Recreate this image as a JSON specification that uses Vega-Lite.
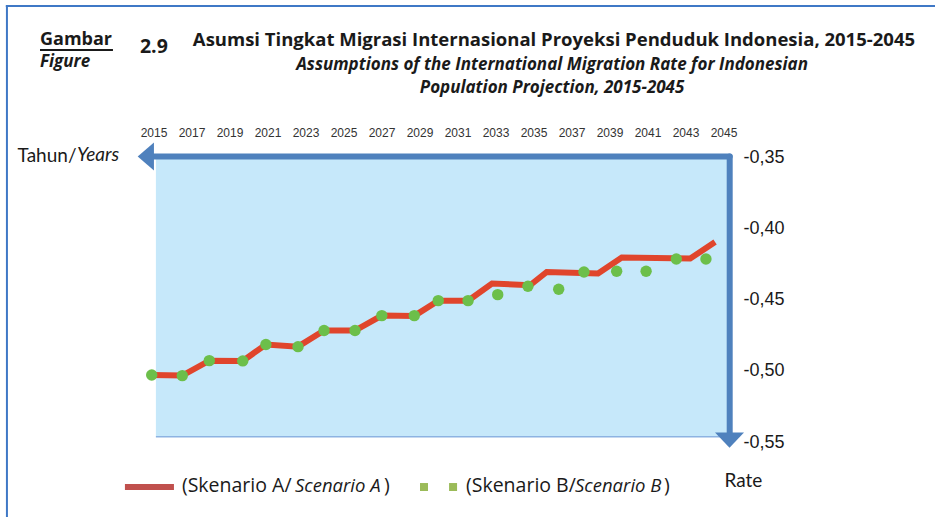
{
  "$schema": "https://vega.github.io/schema/vega-lite/v6.json",
  "width": 570,
  "height": 285,
  "autosize": {"type": "none"},
  "padding": {"left": 154, "top": 157, "right": 211, "bottom": 75},
  "background": "white",
  "config": {"view": {"stroke": null}},
  "datasets": {
    "migration": [
      {"scenario": "A", "year": 2014.88, "rate": -0.5030},
      {"scenario": "A", "year": 2016.49, "rate": -0.5034},
      {"scenario": "A", "year": 2017.91, "rate": -0.4929},
      {"scenario": "A", "year": 2019.67, "rate": -0.4931},
      {"scenario": "A", "year": 2020.89, "rate": -0.4816},
      {"scenario": "A", "year": 2022.58, "rate": -0.4831},
      {"scenario": "A", "year": 2023.95, "rate": -0.4718},
      {"scenario": "A", "year": 2025.58, "rate": -0.4718},
      {"scenario": "A", "year": 2026.99, "rate": -0.4613},
      {"scenario": "A", "year": 2028.70, "rate": -0.4615},
      {"scenario": "A", "year": 2029.96, "rate": -0.4508},
      {"scenario": "A", "year": 2031.53, "rate": -0.4508},
      {"scenario": "A", "year": 2032.79, "rate": -0.4388},
      {"scenario": "A", "year": 2034.79, "rate": -0.4400},
      {"scenario": "A", "year": 2035.67, "rate": -0.4307},
      {"scenario": "A", "year": 2038.37, "rate": -0.4318},
      {"scenario": "A", "year": 2039.62, "rate": -0.4206},
      {"scenario": "A", "year": 2043.22, "rate": -0.4213},
      {"scenario": "A", "year": 2044.53, "rate": -0.4096},
      {"scenario": "B", "year": 2014.88, "rate": -0.5030},
      {"scenario": "B", "year": 2016.49, "rate": -0.5034},
      {"scenario": "B", "year": 2017.91, "rate": -0.4929},
      {"scenario": "B", "year": 2019.67, "rate": -0.4931},
      {"scenario": "B", "year": 2020.89, "rate": -0.4816},
      {"scenario": "B", "year": 2022.58, "rate": -0.4831},
      {"scenario": "B", "year": 2023.95, "rate": -0.4718},
      {"scenario": "B", "year": 2025.58, "rate": -0.4718},
      {"scenario": "B", "year": 2026.99, "rate": -0.4613},
      {"scenario": "B", "year": 2028.70, "rate": -0.4613},
      {"scenario": "B", "year": 2029.96, "rate": -0.4508},
      {"scenario": "B", "year": 2031.53, "rate": -0.4508},
      {"scenario": "B", "year": 2033.09, "rate": -0.4466},
      {"scenario": "B", "year": 2034.68, "rate": -0.4407},
      {"scenario": "B", "year": 2036.30, "rate": -0.4428},
      {"scenario": "B", "year": 2037.63, "rate": -0.4307},
      {"scenario": "B", "year": 2039.35, "rate": -0.4302},
      {"scenario": "B", "year": 2040.90, "rate": -0.4302},
      {"scenario": "B", "year": 2042.49, "rate": -0.4216},
      {"scenario": "B", "year": 2044.05, "rate": -0.4216}
    ],
    "yearLabels": [
      {"tick": 2015}, {"tick": 2017}, {"tick": 2019}, {"tick": 2021},
      {"tick": 2023}, {"tick": 2025}, {"tick": 2027}, {"tick": 2029},
      {"tick": 2031}, {"tick": 2033}, {"tick": 2035}, {"tick": 2037},
      {"tick": 2039}, {"tick": 2041}, {"tick": 2043}, {"tick": 2045}
    ]
  },
  "layer": [
    {
      "data": {"values": [{}]},
      "mark": {"type": "rect", "fill": "#c6e8fa"},
      "encoding": {
        "x": {
          "datum": 2015.1, "type": "quantitative",
          "scale": {"domain": [2015, 2045], "nice": false, "zero": false},
          "axis": {
            "orient": "top",
            "labels": false,
            "ticks": false,
            "domain": false,
            "grid": false,
            "title": "Tahun/",
            "titleFont": "Lato",
            "titleFontSize": 19,
            "titleFontWeight": "normal",
            "titleColor": "#1a1a1a",
            "titleAlign": "right",
            "titleBaseline": "middle",
            "titleAngle": 0,
            "titleX": -78,
            "titleY": -2
          }
        },
        "x2": {"datum": 2045.3},
        "y": {
          "datum": -0.35, "type": "quantitative",
          "scale": {"domain": [-0.55, -0.35], "nice": false, "zero": false},
          "axis": {
            "orient": "right",
            "values": [-0.55, -0.5, -0.45, -0.4, -0.35],
            "labelExpr": "'-' + replace(format(abs(datum.value), '.2f'), '.', ',')",
            "labelFont": "Liberation Sans",
            "labelFontSize": 18,
            "labelColor": "#1a1a1a",
            "labelPadding": 19,
            "labelFlush": false,
            "labelOverlap": false,
            "ticks": false,
            "domain": false,
            "grid": false,
            "title": "Rate",
            "titleAngle": 0,
            "titleX": 0,
            "titleY": 323,
            "titleAlign": "left",
            "titleBaseline": "middle",
            "titleFont": "Lato",
            "titleFontSize": 19,
            "titleFontWeight": "normal",
            "titleColor": "#1a1a1a"
          }
        },
        "y2": {"datum": -0.5463}
      }
    },
    {
      "data": {"values": [{}]},
      "mark": {"type": "rule", "color": "#8db3e2", "strokeWidth": 1.5},
      "encoding": {
        "x": {"datum": 2015.1, "type": "quantitative"},
        "x2": {"datum": 2045.2},
        "y": {"datum": -0.5463, "type": "quantitative"}
      }
    },
    {
      "data": {"values": [{}]},
      "mark": {"type": "rule", "color": "#3f78c6", "strokeWidth": 2},
      "encoding": {
        "x": {"datum": 2007.26, "type": "quantitative"},
        "y": {"datum": -0.244, "type": "quantitative"},
        "y2": {"datum": -0.61}
      }
    },
    {
      "data": {"values": [{}]},
      "mark": {"type": "rule", "color": "#3f78c6", "strokeWidth": 2},
      "encoding": {
        "x": {"datum": 2007.2, "type": "quantitative"},
        "x2": {"datum": 2057},
        "y": {"datum": -0.244, "type": "quantitative"}
      }
    },
    {
      "data": {"name": "yearLabels"},
      "mark": {"type": "text", "font": "Liberation Sans", "fontSize": 12, "color": "#333333", "align": "center", "baseline": "middle"},
      "encoding": {
        "x": {"field": "tick", "type": "quantitative"},
        "y": {"datum": -0.3334, "type": "quantitative"},
        "text": {"field": "tick", "type": "nominal"}
      }
    },
    {
      "data": {"name": "migration"},
      "transform": [{"filter": "datum.scenario === 'A'"}],
      "mark": {"type": "line", "strokeWidth": 6, "strokeJoin": "miter"},
      "encoding": {
        "x": {"field": "year", "type": "quantitative"},
        "y": {"field": "rate", "type": "quantitative"},
        "color": {
          "field": "scenario", "type": "nominal",
          "scale": {"domain": ["A", "B"], "range": ["#e0452c", "#6cbf4a"]},
          "legend": null
        }
      }
    },
    {
      "data": {"name": "migration"},
      "transform": [{"filter": "datum.scenario === 'B'"}],
      "mark": {"type": "point", "filled": true, "size": 130, "opacity": 1},
      "encoding": {
        "x": {"field": "year", "type": "quantitative"},
        "y": {"field": "rate", "type": "quantitative"},
        "color": {"field": "scenario", "type": "nominal", "legend": null}
      }
    },
    {
      "data": {"values": [{}]},
      "mark": {"type": "rule", "color": "#4f81bd", "strokeWidth": 6, "strokeCap": "round"},
      "encoding": {
        "x": {"datum": 2014.97, "type": "quantitative"},
        "x2": {"datum": 2045.3},
        "y": {"datum": -0.3497, "type": "quantitative"}
      }
    },
    {
      "data": {"values": [{}]},
      "mark": {"type": "rule", "color": "#4f81bd", "strokeWidth": 6, "strokeCap": "round"},
      "encoding": {
        "x": {"datum": 2045.3, "type": "quantitative"},
        "y": {"datum": -0.3497, "type": "quantitative"},
        "y2": {"datum": -0.5435}
      }
    },
    {
      "data": {"values": [{}]},
      "mark": {"type": "point", "filled": true, "opacity": 1, "color": "#4f81bd", "strokeWidth": 0, "shape": "M-0.58,0L0.58,-1L0.58,1Z", "size": 784},
      "encoding": {
        "x": {"datum": 2014.57, "type": "quantitative"},
        "y": {"datum": -0.3497, "type": "quantitative"}
      }
    },
    {
      "data": {"values": [{}]},
      "mark": {"type": "point", "filled": true, "opacity": 1, "color": "#4f81bd", "strokeWidth": 0, "shape": "M-1,-0.52L1,-0.52L0,0.52Z", "size": 841},
      "encoding": {
        "x": {"datum": 2045.29, "type": "quantitative"},
        "y": {"datum": -0.5487, "type": "quantitative"}
      }
    },
    {
      "data": {"values": [{}]},
      "mark": {"type": "text", "text": "Years", "font": "Lato", "fontSize": 19, "fontStyle": "italic", "color": "#1a1a1a", "align": "left", "baseline": "middle"},
      "encoding": {
        "x": {"datum": 2010.95, "type": "quantitative"},
        "y": {"datum": -0.3486, "type": "quantitative"}
      }
    },
    {
      "data": {"values": [{}]},
      "mark": {"type": "text", "text": "Asumsi Tingkat Migrasi Internasional Proyeksi Penduduk Indonesia, 2015-2045", "font": "Open Sans", "fontSize": 18.5, "fontWeight": "bold", "color": "#1a1a1a", "align": "center", "baseline": "middle"},
      "encoding": {
        "x": {"datum": 2036.05, "type": "quantitative"},
        "y": {"datum": -0.2679, "type": "quantitative"}
      }
    },
    {
      "data": {"values": [{}]},
      "mark": {"type": "text", "text": "Assumptions of the International Migration Rate for Indonesian", "font": "Open Sans", "fontSize": 17, "fontWeight": "bold", "fontStyle": "italic", "color": "#1a1a1a", "align": "center", "baseline": "middle"},
      "encoding": {
        "x": {"datum": 2035.95, "type": "quantitative"},
        "y": {"datum": -0.2854, "type": "quantitative"}
      }
    },
    {
      "data": {"values": [{}]},
      "mark": {"type": "text", "text": "Population Projection, 2015-2045", "font": "Open Sans", "fontSize": 17, "fontWeight": "bold", "fontStyle": "italic", "color": "#1a1a1a", "align": "center", "baseline": "middle"},
      "encoding": {
        "x": {"datum": 2035.95, "type": "quantitative"},
        "y": {"datum": -0.3016, "type": "quantitative"}
      }
    },
    {
      "data": {"values": [{}]},
      "mark": {"type": "text", "text": "Gambar", "font": "Open Sans", "fontSize": 18, "fontWeight": "bold", "color": "#1a1a1a", "align": "left", "baseline": "middle"},
      "encoding": {
        "x": {"datum": 2009.0, "type": "quantitative"},
        "y": {"datum": -0.2679, "type": "quantitative"}
      }
    },
    {
      "data": {"values": [{}]},
      "mark": {"type": "rule", "color": "#1a1a1a", "strokeWidth": 2},
      "encoding": {
        "x": {"datum": 2009.0, "type": "quantitative"},
        "x2": {"datum": 2012.84},
        "y": {"datum": -0.2749, "type": "quantitative"}
      }
    },
    {
      "data": {"values": [{}]},
      "mark": {"type": "text", "text": "Figure", "font": "Open Sans", "fontSize": 17, "fontWeight": "bold", "fontStyle": "italic", "color": "#1a1a1a", "align": "left", "baseline": "middle"},
      "encoding": {
        "x": {"datum": 2009.0, "type": "quantitative"},
        "y": {"datum": -0.2833, "type": "quantitative"}
      }
    },
    {
      "data": {"values": [{}]},
      "mark": {"type": "text", "text": "2.9", "font": "Open Sans", "fontSize": 19.5, "fontWeight": "bold", "color": "#1a1a1a", "align": "left", "baseline": "middle"},
      "encoding": {
        "x": {"datum": 2014.26, "type": "quantitative"},
        "y": {"datum": -0.2728, "type": "quantitative"}
      }
    },
    {
      "data": {"values": [{}]},
      "mark": {"type": "rule", "color": "#c0504d", "strokeWidth": 6},
      "encoding": {
        "x": {"datum": 2013.47, "type": "quantitative"},
        "x2": {"datum": 2016.05},
        "y": {"datum": -0.5816, "type": "quantitative"}
      }
    },
    {
      "data": {"values": [{}]},
      "mark": {"type": "point", "filled": true, "opacity": 1, "color": "#9bbb59", "strokeWidth": 0, "shape": "square", "size": 64},
      "encoding": {
        "x": {"datum": 2029.21, "type": "quantitative"},
        "y": {"datum": -0.5816, "type": "quantitative"}
      }
    },
    {
      "data": {"values": [{}]},
      "mark": {"type": "point", "filled": true, "opacity": 1, "color": "#9bbb59", "strokeWidth": 0, "shape": "square", "size": 64},
      "encoding": {
        "x": {"datum": 2030.74, "type": "quantitative"},
        "y": {"datum": -0.5816, "type": "quantitative"}
      }
    },
    {
      "data": {"values": [{}]},
      "mark": {"type": "text", "text": "(Skenario A/", "font": "Open Sans", "fontSize": 19.5, "color": "#1a1a1a", "align": "left", "baseline": "middle"},
      "encoding": {
        "x": {"datum": 2016.47, "type": "quantitative"},
        "y": {"datum": -0.5809, "type": "quantitative"}
      }
    },
    {
      "data": {"values": [{}]},
      "mark": {"type": "text", "text": "Scenario A", "font": "Open Sans", "fontSize": 18.5, "fontStyle": "italic", "color": "#1a1a1a", "align": "left", "baseline": "middle"},
      "encoding": {
        "x": {"datum": 2022.42, "type": "quantitative"},
        "y": {"datum": -0.5809, "type": "quantitative"}
      }
    },
    {
      "data": {"values": [{}]},
      "mark": {"type": "text", "text": ")", "font": "Open Sans", "fontSize": 19.5, "color": "#1a1a1a", "align": "left", "baseline": "middle"},
      "encoding": {
        "x": {"datum": 2027.11, "type": "quantitative"},
        "y": {"datum": -0.5809, "type": "quantitative"}
      }
    },
    {
      "data": {"values": [{}]},
      "mark": {"type": "text", "text": "(Skenario B/", "font": "Open Sans", "fontSize": 19.5, "color": "#1a1a1a", "align": "left", "baseline": "middle"},
      "encoding": {
        "x": {"datum": 2031.42, "type": "quantitative"},
        "y": {"datum": -0.5809, "type": "quantitative"}
      }
    },
    {
      "data": {"values": [{}]},
      "mark": {"type": "text", "text": "Scenario B", "font": "Open Sans", "fontSize": 18.5, "fontStyle": "italic", "color": "#1a1a1a", "align": "left", "baseline": "middle"},
      "encoding": {
        "x": {"datum": 2037.16, "type": "quantitative"},
        "y": {"datum": -0.5809, "type": "quantitative"}
      }
    },
    {
      "data": {"values": [{}]},
      "mark": {"type": "text", "text": ")", "font": "Open Sans", "fontSize": 19.5, "color": "#1a1a1a", "align": "left", "baseline": "middle"},
      "encoding": {
        "x": {"datum": 2041.84, "type": "quantitative"},
        "y": {"datum": -0.5809, "type": "quantitative"}
      }
    }
  ]
}
